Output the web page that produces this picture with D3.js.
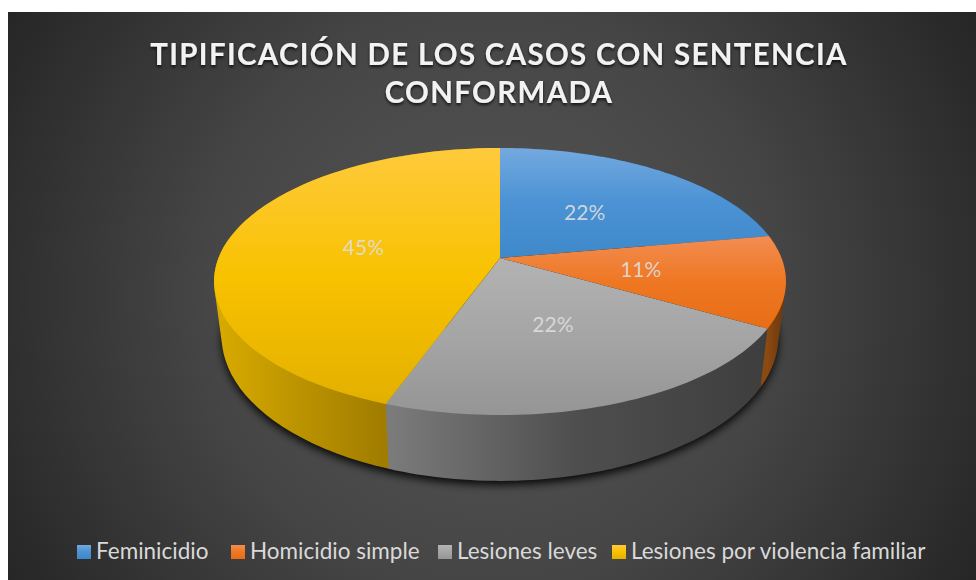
<!DOCTYPE html>
<html><head><meta charset="utf-8">
<script src="https://cdn.jsdelivr.net/npm/d3@7/dist/d3.min.js"></script>
<style>html,body{margin:0;padding:0;background:#fff;overflow:hidden}svg{display:block}</style>
</head><body><svg id="c" width="976" height="580"></svg>
<script>
const categories = ["Feminicidio","Homicidio simple","Lesiones leves","Lesiones por violencia familiar"];
const values = [22.2,11.1,22.2,44.5];
const titleLines = ["TIPIFICACIÓN DE LOS CASOS CON SENTENCIA","CONFORMADA"];
const topColors = [["#74a9df","#4a92d4","#3f88c9"],["#f28d52","#ef7722","#e86d16"],["#b3b3b3","#a5a5a5","#959595"],["#ffca3c","#f8c200","#e3b000"]];
const wallColors = [["#27496b","#27496b","#27496b"],["#8a4a12","#7a3f0e","#6e370a"],["#7c7c7c","#4e4e4e","#3e3e3e"],["#d9ab00","#bb9300","#a07c00"]];

const svg = d3.select("#c");
const defs = svg.append("defs");
const bg = defs.append("radialGradient").attr("id","bg").attr("gradientUnits","userSpaceOnUse")
  .attr("cx",490).attr("cy",296).attr("r",560);
bg.append("stop").attr("offset",0).attr("stop-color","#565656");
bg.append("stop").attr("offset",.5).attr("stop-color","#464646");
bg.append("stop").attr("offset",1).attr("stop-color","#262626");
const blur = defs.append("filter").attr("id","sh").attr("x","-10%").attr("y","-10%").attr("width","120%").attr("height","120%");
blur.append("feGaussianBlur").attr("stdDeviation",4);
const tsh = defs.append("filter").attr("id","ts").attr("x","-5%").attr("y","-20%").attr("width","110%").attr("height","140%");
tsh.append("feDropShadow").attr("dx",0).attr("dy",2).attr("stdDeviation",1.6).attr("flood-color","#000").attr("flood-opacity",.75);

svg.append("rect").attr("x",8).attr("y",12).attr("width",968).attr("height",568).attr("fill","url(#bg)");

const k = -0.176;
const topFace = {cx:500, cy:258, a:281.5, b:129.4};
const botFace = {cx:500, cy:311, a:274, b:140};
const project = (f,ang,r=1)=>{
  const u=Math.sin(ang)*r, v=-Math.cos(ang)*r, d=1+k*v;
  return [f.cx+f.a*u/d, f.cy+f.b*v/d];
};
const arcs = d3.pie().sort(null).value(d=>d)(values);
const line = d3.line();
const sample = (f,a0,a1)=>d3.range(0,61).map(i=>project(f,d3.interpolateNumber(a0,a1)(i/60)));

// shadow
svg.append("path").attr("d",line(sample(botFace,0,2*Math.PI).map(p=>[p[0],p[1]+4]))+"Z")
  .attr("fill","#000").attr("opacity",.9).attr("filter","url(#sh)");

// gradients
const addStops=(g,c)=>c.forEach((s,j)=>g.append("stop").attr("offset",j/(c.length-1)).attr("stop-color",s));
arcs.forEach((d,i)=>{
  addStops(defs.append("linearGradient").attr("id","top"+i).attr("x1",0).attr("y1",0).attr("x2",0).attr("y2",1),topColors[i]);
  const pts=sample(topFace,d.startAngle,d.endAngle).filter(p=>p[1]>260);
  const xs=d3.extent(pts.length?pts:[[0,0],[1,0]],p=>p[0]);
  addStops(defs.append("linearGradient").attr("id","wall"+i).attr("gradientUnits","userSpaceOnUse")
    .attr("x1",xs[0]).attr("y1",0).attr("x2",xs[1]).attr("y2",0),wallColors[i]);
});

// walls, painted back to front: the convex hull of each slice's two rims gives the side silhouette
const wallOrder = [0,3,1,2].map(i=>({d:arcs[i],i}));
svg.append("g").selectAll("path").data(wallOrder).join("path")
  .attr("d",({d})=>line(d3.polygonHull(sample(topFace,d.startAngle,d.endAngle).concat(sample(botFace,d.startAngle,d.endAngle))))+"Z")
  .attr("fill",({i})=>`url(#wall${i})`);
// top faces
svg.append("g").selectAll("path").data(arcs).join("path")
  .attr("d",d=>line([[topFace.cx,topFace.cy]].concat(sample(topFace,d.startAngle,d.endAngle)))+"Z")
  .attr("fill",(d,i)=>`url(#top${i})`);
// labels
svg.append("g").selectAll("text").data(arcs).join("text")
  .attr("transform",d=>`translate(${project(topFace,(d.startAngle+d.endAngle)/2,.5)})`)
  .attr("text-anchor","middle").attr("dy","0.38em")
  .attr("font-family","Lato").attr("font-size",21).attr("fill","#dedede").attr("fill-opacity",.9)
  .text(d=>Math.round(d.value)+"%");
// title
svg.append("g").selectAll("text").data(titleLines).join("text")
  .attr("x",499).attr("y",(d,i)=>65+i*37.5).attr("text-anchor","middle")
  .attr("font-family","Lato").attr("font-weight",700).attr("font-size",29.5)
  .attr("letter-spacing",1.3).attr("fill","#f2f2f2").attr("filter","url(#ts)")
  .text(d=>d);
// legend
const legendX = d3.scaleOrdinal().domain(categories).range([77,231,438,612]);
const lg = svg.append("g").selectAll("g").data(categories).join("g")
  .attr("transform",d=>`translate(${legendX(d)},545)`);
lg.append("rect").attr("width",14).attr("height",14).attr("fill",(d,i)=>`url(#top${i})`);
lg.append("text").attr("x",19).attr("y",13.5).attr("font-family","Lato").attr("font-size",22.5)
  .attr("fill","#d9d9d9").text(d=>d);
</script></body></html>
